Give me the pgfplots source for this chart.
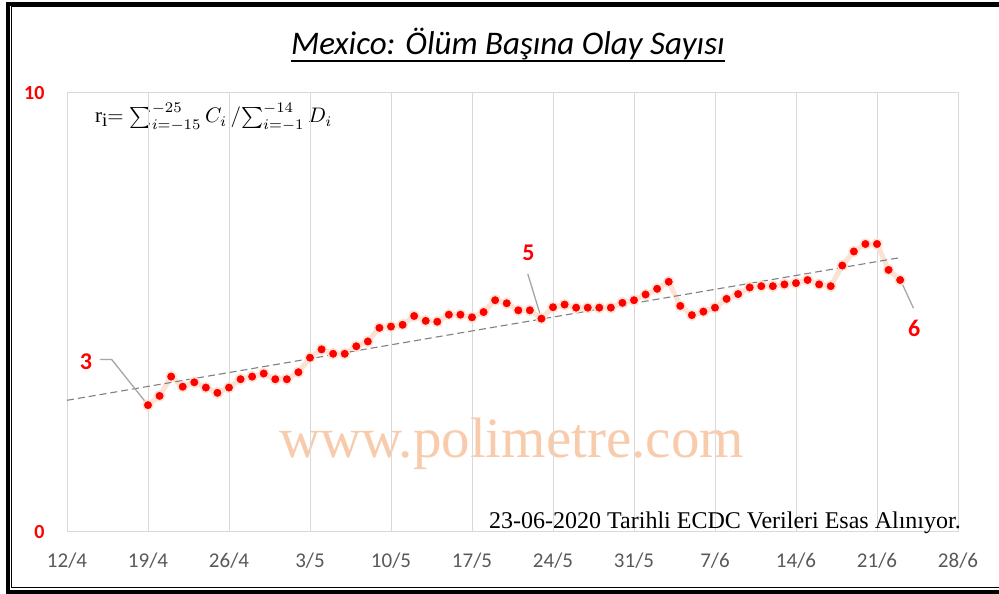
\documentclass[border=0pt]{standalone}
\usepackage{pgfplots}
\pgfplotsset{compat=1.18}
\usepackage{fontspec}
\setmainfont{Carlito}
\newfontfamily\timesf{Liberation Serif}
\definecolor{gridgray}{RGB}{217,217,217}
\definecolor{tickgray}{RGB}{89,89,89}
\definecolor{peach}{RGB}{252,226,210}
\definecolor{wmark}{RGB}{248,203,172}
\definecolor{trendgray}{RGB}{128,128,128}
\definecolor{leadgray}{RGB}{166,166,166}
\begin{document}
\begin{tikzpicture}
\path[use as bounding box, clip] (0pt,0pt) rectangle (999pt,594pt);
\fill[white] (0pt,0pt) rectangle (999pt,594pt);
% frame
\draw[line width=4pt] (1010pt,590.3pt) -- (8pt,590.3pt) -- (8pt,1.8pt) -- (1010pt,1.8pt);
\draw[line width=1.1pt] (1010pt,587.2pt) -- (11.8pt,587.2pt) -- (11.8pt,6.7pt) -- (1010pt,6.7pt);
% watermark
\node[anchor=base, inner sep=0pt, text=wmark, font=\timesf\fontsize{57}{60}\selectfont] at (511.5pt,136pt) {www.polimetre.com};
% title
\node[anchor=base, inner sep=0pt, font=\fontsize{33}{38}\selectfont\itshape] (T) at (508pt,539pt) {Mexico: Ölüm Başına Olay Sayısı};
\draw[line width=2pt] ([yshift=-6pt]T.base west) -- ([yshift=-6pt]T.base east);
% formula
\node[anchor=base west, inner sep=0pt] at (95pt,471pt) {\scalebox{2.1}{{\timesf r}\raisebox{-0.3ex}{\timesf\small i}$=\textstyle\sum_{i=-15}^{-25} C_i \,/\!\sum_{i=-1}^{-14} D_i$}};
\begin{axis}[
  at={(67pt,62pt)}, anchor=south west,
  scale only axis, width=891pt, height=439pt,
  xmin=0, xmax=77, ymin=0, ymax=10,
  xtick={0,7,...,77},
  xticklabels={12/4,19/4,26/4,3/5,10/5,17/5,24/5,31/5,7/6,14/6,21/6,28/6},
  ytick={0,10}, yticklabels={0,10},
  major tick length=0pt,
  xmajorgrids,
  major grid style={draw=gridgray, line width=1pt},
  axis line style={draw=gridgray, line width=1pt},
  xticklabel style={font=\fontsize{21}{25}\selectfont, text=tickgray, anchor=base, yshift=-36pt},
  yticklabel style={font=\fontsize{20}{24}\selectfont\bfseries, text=red, anchor=base east, xshift=-19pt, yshift=-7pt},
  clip=false,
]
\addplot[peach, line width=5pt, mark=*, mark size=5pt, mark options={fill=red, draw=peach, line width=1.6pt}] coordinates {
(7,2.89)(8,3.10)(9,3.54)(10,3.31)(11,3.41)(12,3.29)(13,3.17)(14,3.29)(15,3.48)(16,3.54)
(17,3.61)(18,3.48)(19,3.48)(20,3.64)(21,3.97)(22,4.16)(23,4.06)(24,4.06)(25,4.23)(26,4.34)
(27,4.65)(28,4.68)(29,4.72)(30,4.92)(31,4.81)(32,4.79)(33,4.95)(34,4.95)(35,4.89)(36,5.01)
(37,5.28)(38,5.21)(39,5.05)(40,5.05)(41,4.86)(42,5.12)(43,5.18)(44,5.11)(45,5.11)(46,5.11)
(47,5.11)(48,5.22)(49,5.28)(50,5.41)(51,5.54)(52,5.70)(53,5.15)(54,4.94)(55,5.02)(56,5.11)
(57,5.31)(58,5.42)(59,5.57)(60,5.60)(61,5.60)(62,5.64)(63,5.67)(64,5.74)(65,5.64)(66,5.60)
(67,6.07)(68,6.39)(69,6.56)(70,6.56)(71,5.97)(72,5.74)};
\addplot[trendgray, line width=1.1pt, dash pattern=on 7pt off 4pt] coordinates {(0,3.0)(72,6.25)};
% leader lines and labels
\draw[leadgray, line width=1.3pt] (axis cs:2.85,3.93) -- (axis cs:3.86,3.93) -- (axis cs:7,2.89);
\draw[leadgray, line width=1.3pt] (axis cs:39.82,5.88) -- (axis cs:41,4.86);
\draw[leadgray, line width=1.3pt] (axis cs:73.15,5.10) -- (axis cs:72.06,5.72);
\node[text=red, font=\fontsize{24}{28}\selectfont\bfseries] at (axis cs:1.64,3.89) {3};
\node[text=red, font=\fontsize{24}{28}\selectfont\bfseries] at (axis cs:39.87,6.36) {5};
\node[text=red, font=\fontsize{24}{28}\selectfont\bfseries] at (axis cs:73.22,4.64) {6};
\end{axis}
% footer note
\node[anchor=base east, inner sep=0pt, font=\timesf\fontsize{24}{28}\selectfont] at (961pt,65pt) {23-06-2020 Tarihli ECDC Verileri Esas Alınıyor.};
\end{tikzpicture}
\end{document}
